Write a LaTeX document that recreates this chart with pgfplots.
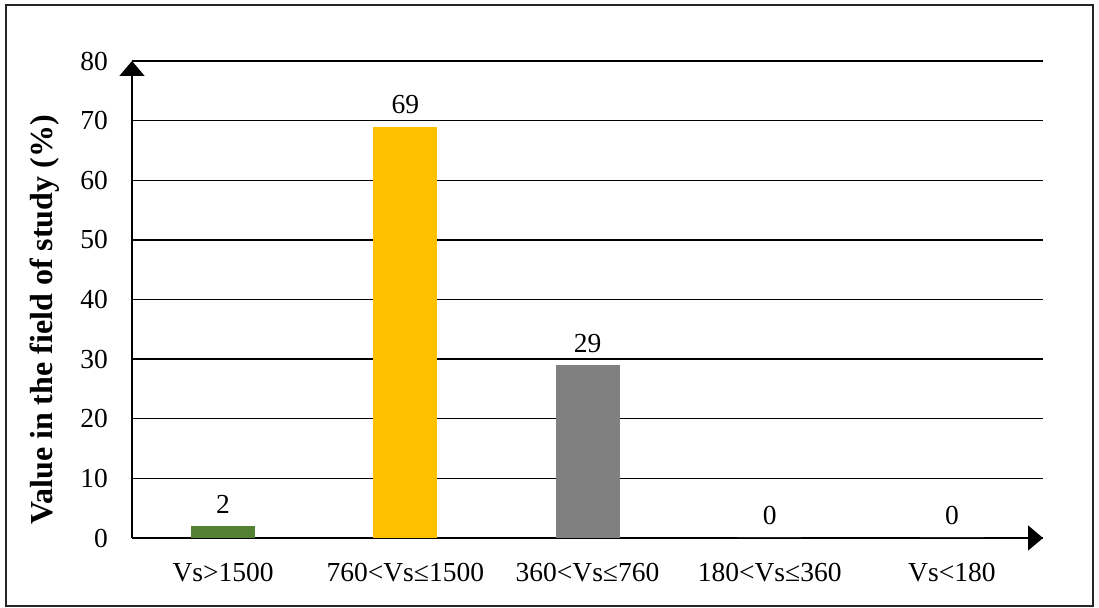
\documentclass[border=0pt]{standalone}
\usepackage{fontspec}
\setmainfont{Liberation Serif}
\usepackage{pgfplots}
\pgfplotsset{compat=1.18}
\usetikzlibrary{arrows.meta}
\newcommand{\fs}{\fontsize{27.5bp}{32bp}\selectfont}
\begin{document}
\begin{tikzpicture}
\useasboundingbox (0,0) rectangle (1099bp,608bp);
\draw[line width=1.5bp, black!85] (6bp,2bp) rectangle (1093bp,603bp);
\begin{axis}[
  at={(132bp,70bp)}, anchor=south west,
  scale only axis, width=911bp, height=477bp,
  xmin=-0.5, xmax=4.5, ymin=0, ymax=80,
  axis lines=left,
  axis line style={line width=1.8bp, -{Triangle[length=15bp,width=25bp]}},
  xtick={0,1,2,3,4},
  xticklabels={Vs>1500, 760<Vs≤1500, 360<Vs≤760, 180<Vs≤360, Vs<180},
  ytick={0,10,...,80},
  major tick length=0pt,
  ymajorgrids, grid style={black, line width=1.3bp},
  /pgf/number format/assume math mode=true,
  tick label style={font=\fs, text=black},
  xticklabel style={anchor=base, yshift=-43bp},
  yticklabel style={anchor=east, inner sep=0pt, xshift=-24bp},
  ylabel={\textbf{Value in the field of study (\%)}},
  ylabel style={at={(axis description cs:-0.0955,0.457)}, anchor=center, font=\fontsize{32bp}{38bp}\selectfont},
  ybar, bar width=64bp,
  nodes near coords,
  every node near coord/.append style={font=\fs, anchor=base, yshift=13bp, inner sep=0pt},
]
\addplot[bar shift=0pt, fill={rgb,255:red,84;green,130;blue,53}, draw=none] coordinates {(0,2)};
\addplot[bar shift=0pt, fill={rgb,255:red,255;green,192;blue,0}, draw=none] coordinates {(1,69)};
\addplot[bar shift=0pt, fill={rgb,255:red,128;green,128;blue,128}, draw=none] coordinates {(2,29)};
\addplot[bar shift=0pt, fill=white, draw=none] coordinates {(3,0) (4,0)};
\end{axis}
\end{tikzpicture}
\end{document}
